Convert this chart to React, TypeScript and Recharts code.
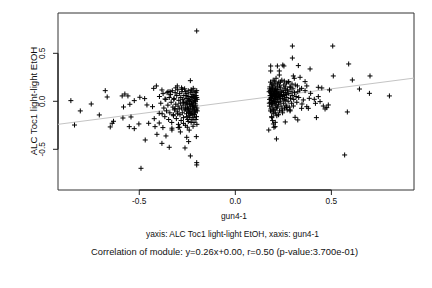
import React from 'react';
import {
  ScatterChart,
  Scatter,
  XAxis,
  YAxis,
  ReferenceLine,
  ReferenceArea,
} from 'recharts';

// axis setup
const xTicks = [-0.5, 0, 0.5];
const yTicks = [-0.5, 0, 0.5];
const xDomain: [number, number] = [-0.923, 0.93];
const yDomain: [number, number] = [-0.924, 0.92];

// fit shown in the caption
const slope = 0.26;
const intercept = 0.0;

// gun4-1 (x) vs ALC Toc1 light-light EtOH (y)
const leftSparse: [number, number][] = [
  [-0.856, 0.007], [-0.837, -0.247], [-0.807, -0.1], [-0.75, -0.028], [-0.708, -0.142],
  [-0.677, 0.111], [-0.667, 0.045], [-0.651, -0.267], [-0.641, -0.229], [-0.634, -0.208],
  [-0.589, 0.056], [-0.582, -0.059], [-0.585, -0.174], [-0.575, 0.076], [-0.559, 0.056],
  [-0.549, -0.031], [-0.552, -0.264], [-0.543, -0.163], [-0.526, 0.007], [-0.526, -0.285],
  [-0.497, 0.042], [-0.502, -0.236], [-0.491, -0.698], [-0.472, 0.028], [-0.469, -0.403],
  [-0.46, -0.038], [-0.451, -0.229], [-0.425, 0.135], [-0.431, -0.056], [-0.422, -0.181],
  [-0.418, -0.264], [-0.411, 0.16], [-0.408, -0.344], [-0.396, -0.125], [-0.396, -0.226],
  [-0.382, 0.118], [-0.382, -0.438], [-0.377, -0.274], [-0.366, 0.024], [-0.361, -0.361],
  [-0.344, -0.479], [-0.34, 0.101], [-0.33, -0.299], [-0.323, -0.139], [-0.314, -0.076],
  [-0.302, 0.16], [-0.297, -0.274], [-0.286, -0.319], [-0.276, 0.125], [-0.262, -0.486],
  [-0.253, -0.375], [-0.243, -0.42], [-0.234, -0.569], [-0.234, 0.215], [-0.226, 0.108],
  [-0.219, 0.135], [-0.21, 0.014], [-0.203, -0.368], [-0.201, -0.639], [-0.201, -0.663],
  [-0.201, 0.733], [-0.201, 0.111],
];

const leftDense: [number, number][] = [
  [-0.395, 0.05], [-0.388, -0.02], [-0.381, -0.13], [-0.376, 0.08], [-0.372, -0.07],
  [-0.367, -0.16], [-0.362, 0.02], [-0.358, -0.1], [-0.355, 0.09], [-0.351, -0.04],
  [-0.347, -0.19], [-0.344, 0.04], [-0.341, -0.12], [-0.337, 0.07], [-0.334, -0.01],
  [-0.331, -0.22], [-0.328, 0.11], [-0.325, -0.06], [-0.322, -0.15], [-0.319, 0.03],
  [-0.316, -0.09], [-0.313, 0.09], [-0.31, -0.03], [-0.307, -0.18], [-0.305, 0.06],
  [-0.302, -0.11], [-0.3, 0.12], [-0.298, -0.05], [-0.296, -0.24], [-0.294, 0.01],
  [-0.292, -0.08], [-0.29, 0.08], [-0.288, -0.14], [-0.286, -0.02], [-0.284, 0.04],
  [-0.282, -0.2], [-0.28, -0.07], [-0.278, 0.1], [-0.276, -0.12], [-0.274, 0.02],
  [-0.272, -0.04], [-0.27, -0.17], [-0.268, 0.06], [-0.266, -0.09], [-0.264, 0.13],
  [-0.262, -0.01], [-0.26, -0.25], [-0.258, -0.06], [-0.256, 0.03], [-0.254, -0.13],
  [-0.252, 0.08], [-0.25, -0.03], [-0.248, -0.19], [-0.246, 0.0], [-0.244, -0.08],
  [-0.242, 0.05], [-0.24, -0.15], [-0.238, -0.11], [-0.236, 0.02], [-0.234, -0.05],
  [-0.232, 0.09], [-0.23, -0.22], [-0.228, -0.02], [-0.226, -0.1], [-0.224, 0.04],
  [-0.222, -0.14], [-0.22, 0.07], [-0.218, -0.06], [-0.216, -0.17], [-0.214, 0.01],
  [-0.212, -0.09], [-0.21, 0.03], [-0.208, -0.12], [-0.206, -0.04], [-0.204, 0.06],
  [-0.202, -0.16], [-0.2, -0.07], [-0.199, 0.02], [-0.198, -0.1],
  [-0.259, -0.08], [-0.255, -0.02], [-0.251, -0.1], [-0.247, 0.03], [-0.243, -0.12],
  [-0.239, -0.03], [-0.235, -0.08], [-0.231, 0.0], [-0.227, -0.13], [-0.223, -0.05],
  [-0.219, -0.01], [-0.215, -0.11], [-0.211, -0.06], [-0.207, 0.0], [-0.203, -0.09],
  [-0.257, 0.06], [-0.253, -0.16], [-0.249, -0.07], [-0.245, -0.21], [-0.241, 0.01],
  [-0.237, -0.17], [-0.233, -0.13], [-0.229, 0.05], [-0.225, -0.19], [-0.221, -0.08],
  [-0.217, 0.05], [-0.213, -0.14], [-0.209, -0.02], [-0.205, -0.19], [-0.201, 0.04],
  [-0.31, 0.14], [-0.29, -0.27], [-0.27, -0.23], [-0.25, -0.27], [-0.24, -0.3],
  [-0.23, 0.12], [-0.22, -0.26], [-0.21, 0.1], [-0.2, -0.24], [-0.35, 0.1],
  [-0.33, -0.28], [-0.32, 0.02], [-0.28, 0.14], [-0.26, 0.1], [-0.3, -0.13],
  [-0.27, -0.01], [-0.245, 0.11], [-0.215, -0.22], [-0.205, 0.09], [-0.225, -0.03],
];

const rightDense: [number, number][] = [
  [0.176, 0.1], [0.178, 0.02], [0.179, -0.05], [0.18, 0.15], [0.181, 0.06],
  [0.182, -0.01], [0.183, 0.2], [0.184, 0.09], [0.185, -0.08], [0.186, 0.04],
  [0.187, 0.12], [0.188, -0.03], [0.189, 0.18], [0.19, 0.07], [0.191, -0.11],
  [0.192, 0.01], [0.193, 0.14], [0.194, 0.05], [0.195, -0.06], [0.196, 0.1],
  [0.197, 0.22], [0.198, 0.0], [0.199, 0.08], [0.2, -0.13], [0.201, 0.16],
  [0.202, 0.03], [0.203, -0.02], [0.204, 0.11], [0.205, 0.06], [0.206, -0.09],
  [0.207, 0.19], [0.208, 0.02], [0.209, 0.13], [0.21, -0.04], [0.211, 0.08],
  [0.212, 0.24], [0.213, -0.01], [0.214, 0.1], [0.215, 0.04], [0.216, -0.15],
  [0.217, 0.15], [0.218, 0.07], [0.219, -0.06], [0.22, 0.02], [0.222, 0.12],
  [0.224, -0.03], [0.226, 0.2], [0.228, 0.05], [0.23, -0.1], [0.232, 0.09],
  [0.234, 0.0], [0.236, 0.14], [0.238, -0.05], [0.24, 0.07], [0.242, 0.22],
  [0.244, 0.03], [0.246, -0.12], [0.248, 0.11], [0.25, -0.02], [0.252, 0.17],
  [0.254, 0.06], [0.256, -0.07], [0.258, 0.13], [0.26, 0.01], [0.262, 0.09],
  [0.264, -0.04], [0.266, 0.19], [0.268, 0.04], [0.27, -0.09], [0.272, 0.12],
  [0.275, 0.0], [0.278, 0.08], [0.281, -0.06], [0.284, 0.15], [0.287, 0.03],
  [0.29, 0.1], [0.293, -0.02], [0.296, 0.06], [0.3, 0.13], [0.304, 0.02],
  [0.308, 0.09], [0.312, 0.17], [0.316, 0.05], [0.32, -0.01], [0.325, 0.1],
  [0.33, 0.04],
  [0.182, 0.11], [0.185, 0.03], [0.188, 0.08], [0.191, 0.13], [0.194, -0.02],
  [0.197, 0.05], [0.2, 0.1], [0.203, 0.07], [0.206, 0.0], [0.209, 0.05],
  [0.212, 0.09], [0.215, -0.07], [0.218, 0.12], [0.221, 0.04], [0.224, 0.08],
  [0.227, -0.01], [0.23, 0.16], [0.233, 0.06], [0.236, 0.03], [0.239, 0.1],
  [0.243, -0.08], [0.247, 0.05], [0.251, 0.09], [0.255, 0.02], [0.26, 0.15],
  [0.265, 0.07], [0.27, 0.11], [0.177, -0.02], [0.179, 0.13], [0.183, -0.1],
  [0.187, 0.01], [0.19, -0.17], [0.195, 0.17], [0.199, -0.09], [0.205, 0.21],
  [0.21, -0.12], [0.22, 0.18], [0.225, -0.14], [0.235, 0.2], [0.245, -0.1],
  [0.255, 0.21], [0.265, -0.06], [0.275, 0.2], [0.285, -0.1], [0.295, 0.18],
];

const rightSparse: [number, number][] = [
  [0.174, -0.299], [0.184, 0.368], [0.184, 0.316], [0.189, -0.16], [0.194, -0.201],
  [0.198, -0.236], [0.201, -0.271], [0.208, -0.219], [0.214, -0.392], [0.207, -0.264],
  [0.219, 0.368], [0.229, 0.316], [0.229, 0.274], [0.247, 0.378], [0.253, 0.368],
  [0.26, -0.215], [0.297, 0.576], [0.297, 0.451], [0.302, 0.264], [0.307, 0.24],
  [0.311, -0.167], [0.325, -0.194], [0.328, 0.372], [0.337, 0.25], [0.363, 0.205],
  [0.389, 0.337], [0.392, 0.083], [0.372, 0.16], [0.385, 0.031], [0.422, -0.17],
  [0.432, 0.146], [0.45, 0.139], [0.441, -0.003], [0.432, 0.049], [0.458, -0.049],
  [0.467, -0.08], [0.476, -0.066], [0.484, -0.038], [0.49, 0.118], [0.507, 0.576],
  [0.51, 0.264], [0.569, -0.559], [0.583, -0.111], [0.59, 0.389], [0.609, 0.222],
  [0.646, 0.128], [0.698, 0.083], [0.701, 0.264], [0.802, 0.056], [0.411, 0.021],
  [0.417, -0.021], [0.38, -0.073], [0.347, -0.028], [0.345, -0.073], [0.372, -0.056],
  [0.354, 0.014], [0.302, -0.049], [0.285, -0.09], [0.267, -0.063], [0.278, 0.205],
  [0.288, 0.146], [0.323, 0.16], [0.335, 0.118], [0.345, 0.135], [0.363, 0.111],
];

const points = [...leftSparse, ...leftDense, ...rightDense, ...rightSparse].map(
  ([x, y]) => ({ x, y })
);

const FONT = '"Liberation Sans", Arial, Helvetica, sans-serif';

const PlusMarker = (props: any) => {
  const { cx, cy } = props;
  if (cx == null || cy == null) return null;
  return (
    <path
      d={`M${cx - 2.5},${cy}H${cx + 2.5}M${cx},${cy - 2.5}V${cy + 2.5}`}
      stroke="#000"
      strokeWidth={1}
      fill="none"
    />
  );
};

const XTick = (props: any) => {
  const { x, payload } = props;
  return (
    <text x={x} y={204} textAnchor="middle" fontSize={8.3} fontFamily={FONT} fill="#111">
      {Number(payload.value).toFixed(1)}
    </text>
  );
};

const YTick = (props: any) => {
  const { y, payload } = props;
  return (
    <text
      x={45}
      y={y}
      transform={`rotate(-90 45 ${y})`}
      textAnchor="middle"
      fontSize={8.3}
      fontFamily={FONT}
      fill="#111"
    >
      {Number(payload.value).toFixed(1)}
    </text>
  );
};

export default function App() {
  const lineStart = { x: xDomain[0], y: slope * xDomain[0] + intercept };
  const lineEnd = { x: xDomain[1], y: slope * xDomain[1] + intercept };

  return (
    <div style={{ position: 'relative', width: 432, height: 288, background: '#fff' }}>
      <style>{'body{margin:0}'}</style>
      <ScatterChart
        width={432}
        height={288}
        margin={{ top: 13, right: 18, bottom: 0, left: 0 }}
      >
        <XAxis
          dataKey="x"
          type="number"
          domain={xDomain}
          ticks={xTicks}
          allowDataOverflow
          height={98}
          axisLine={false}
          tickSize={5}
          tickLine={{ stroke: '#222' }}
          tick={<XTick />}
        />
        <YAxis
          dataKey="y"
          type="number"
          domain={yDomain}
          ticks={yTicks}
          allowDataOverflow
          width={58}
          axisLine={false}
          tickSize={5}
          tickLine={{ stroke: '#222' }}
          tick={<YTick />}
        />
        <ReferenceArea
          x1={xDomain[0]}
          x2={xDomain[1]}
          y1={yDomain[0]}
          y2={yDomain[1]}
          fill="none"
          fillOpacity={0}
          stroke="#333"
          strokeWidth={1}
        />
        <ReferenceLine
          segment={[{ x: -0.5, y: yDomain[0] }, { x: 0.5, y: yDomain[0] }]}
          stroke="#000"
        />
        <ReferenceLine
          segment={[{ x: xDomain[0], y: -0.5 }, { x: xDomain[0], y: 0.5 }]}
          stroke="#000"
        />
        <Scatter data={points} shape={<PlusMarker />} isAnimationActive={false} />
        <ReferenceLine segment={[lineStart, lineEnd]} stroke="#c4c4c4" strokeWidth={1} />
      </ScatterChart>
      <svg
        width={432}
        height={288}
        style={{ position: 'absolute', left: 0, top: 0, pointerEvents: 'none' }}
        fontFamily={FONT}
        fill="#111"
      >
        <text
          transform="translate(37 101) rotate(-90)"
          textAnchor="middle"
          fontSize={9.6}
        >
          ALC Toc1 light-light EtOH
        </text>
        <text x={234} y={218.5} textAnchor="middle" fontSize={8.4}>
          gun4-1
        </text>
        <text
          x={146}
          y={236.5}
          fontSize={8.3}
          textLength={173}
          lengthAdjust="spacingAndGlyphs"
        >
          yaxis: ALC Toc1 light-light EtOH, xaxis: gun4-1
        </text>
        <text
          x={91}
          y={255}
          fontSize={8.3}
          textLength={267}
          lengthAdjust="spacingAndGlyphs"
        >
          Correlation of module: y=0.26x+0.00, r=0.50 (p-value:3.700e-01)
        </text>
      </svg>
    </div>
  );
}
